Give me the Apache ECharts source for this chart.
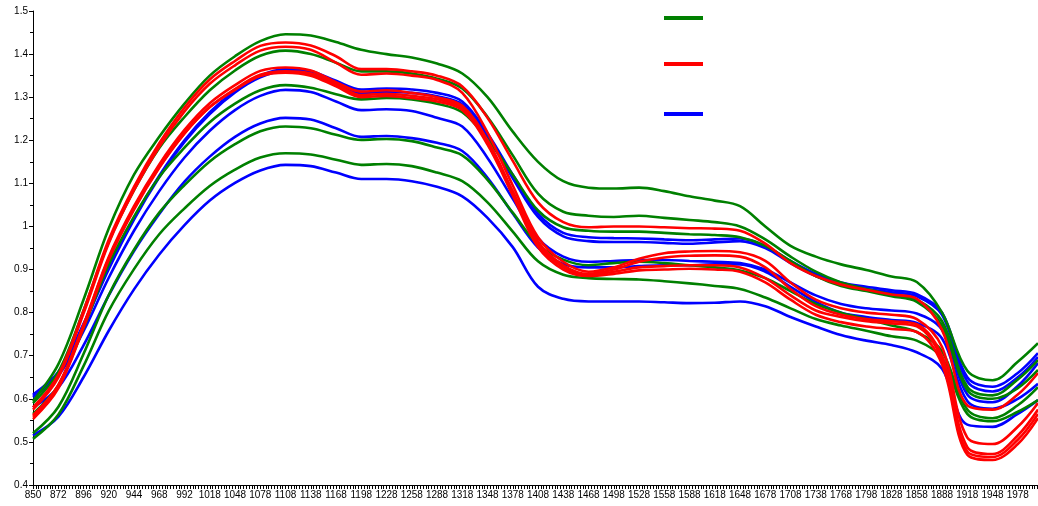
<!DOCTYPE html>
<html>
<head>
<meta charset="utf-8">
<script src="https://cdn.jsdelivr.net/npm/echarts@6/dist/echarts.min.js"></script>
<style>
  html, body { margin: 0; padding: 0; background: #ffffff; }
  #chart { width: 1038px; height: 506px; }
</style>
</head>
<body>
<div id="chart"></div>
<script>
// Wavelength tick labels (nm), one per major tick
const wavelengths = [850, 872, 896, 920, 944, 968, 992, 1018, 1048, 1078, 1108, 1138, 1168, 1198,
  1228, 1258, 1288, 1318, 1348, 1378, 1408, 1438, 1468, 1498, 1528, 1558, 1588, 1618, 1648, 1678,
  1708, 1738, 1768, 1798, 1828, 1858, 1888, 1918, 1948, 1978];

// Sample positions along the axis (tick index); the final sample sits at the right edge
const samplePos = [0, 1, 2, 3, 4, 5, 6, 7, 8, 9, 10, 11, 12, 13, 14, 15, 16, 17, 18, 19, 20,
  21, 22, 23, 24, 25, 26, 27, 28, 29, 30, 31, 32, 33, 34, 35, 36, 37, 38, 39, 39.8];

// Green spectra
const g1 = [.595, .68, .83, .995, 1.12, 1.208, 1.285, 1.35, 1.395, 1.43, 1.446, 1.443, 1.428, 1.41, 1.40, 1.392, 1.378, 1.355, 1.30, 1.22, 1.15, 1.105, 1.09, 1.088, 1.09, 1.082, 1.07, 1.06, 1.047, 1.0, .955, .93, .912, .899, .884, .871, .80, .665, .643, .686, .729];
const g2 = [.59, .662, .805, .964, 1.084, 1.182, 1.254, 1.316, 1.362, 1.396, 1.408, 1.40, 1.38, 1.36, 1.36, 1.355, 1.343, 1.32, 1.254, 1.165, 1.076, 1.034, 1.025, 1.022, 1.025, 1.02, 1.015, 1.01, 1.0, .97, .93, .895, .87, .855, .842, .83, .78, .628, .608, .645, .69];
const g3 = [.565, .631, .764, .912, 1.023, 1.115, 1.183, 1.242, 1.285, 1.316, 1.328, 1.322, 1.307, 1.295, 1.298, 1.295, 1.285, 1.265, 1.202, 1.12, 1.037, .998, .99, .988, .988, .985, .982, .98, .975, .955, .92, .885, .862, .85, .838, .825, .77, .62, .60, .625, .667];
const g4 = [.52, .581, .704, .841, .946, 1.032, 1.096, 1.151, 1.191, 1.221, 1.232, 1.228, 1.213, 1.201, 1.203, 1.198, 1.183, 1.165, 1.108, 1.032, .958, .923, .91, .915, .918, .915, .91, .905, .898, .88, .85, .82, .80, .785, .77, .755, .71, .575, .555, .585, .627];
const g5 = [.507, .563, .676, .804, .901, .982, 1.042, 1.094, 1.132, 1.16, 1.17, 1.167, 1.155, 1.143, 1.145, 1.14, 1.125, 1.105, 1.056, .988, .919, .888, .88, .878, .877, .873, .868, .862, .855, .835, .81, .785, .77, .758, .745, .735, .695, .565, .548, .57, .597];

// Red spectra
const r1 = [.58, .655, .804, .969, 1.092, 1.193, 1.276, 1.341, 1.384, 1.419, 1.427, 1.42, 1.395, 1.365, 1.365, 1.36, 1.35, 1.325, 1.252, 1.152, 1.056, 1.01, .998, 1.0, 1.0, .998, .996, .995, .99, .96, .915, .885, .865, .853, .842, .832, .76, .585, .575, .61, .66];
const r2 = [.575, .649, .798, .961, 1.084, 1.185, 1.267, 1.331, 1.374, 1.408, 1.417, 1.41, 1.38, 1.352, 1.355, 1.35, 1.34, 1.31, 1.218, 1.095, .975, .918, .895, .905, .925, .938, .942, .943, .94, .92, .87, .83, .81, .80, .795, .785, .72, .51, .495, .535, .59];
const r3 = [.558, .629, .771, .929, 1.047, 1.144, 1.224, 1.286, 1.328, 1.361, 1.369, 1.362, 1.335, 1.313, 1.316, 1.31, 1.30, 1.28, 1.20, 1.082, .965, .91, .89, .90, .918, .928, .932, .933, .93, .905, .855, .815, .795, .785, .78, .773, .70, .488, .472, .515, .575];
const r4 = [.553, .624, .765, .922, 1.039, 1.136, 1.216, 1.277, 1.319, 1.352, 1.36, 1.355, 1.33, 1.305, 1.308, 1.303, 1.295, 1.275, 1.195, 1.077, .958, .905, .888, .895, .905, .908, .91, .91, .905, .88, .84, .805, .79, .78, .775, .768, .69, .478, .465, .505, .565];
const r5 = [.562, .632, .771, .926, 1.042, 1.138, 1.216, 1.277, 1.317, 1.349, 1.357, 1.35, 1.325, 1.30, 1.303, 1.298, 1.29, 1.27, 1.19, 1.072, .952, .90, .885, .89, .898, .90, .902, .90, .895, .87, .83, .795, .778, .768, .762, .755, .68, .47, .458, .495, .555];

// Blue spectra
const b1 = [.61, .662, .774, .905, 1.02, 1.118, 1.2, 1.265, 1.315, 1.35, 1.365, 1.36, 1.338, 1.318, 1.32, 1.318, 1.31, 1.29, 1.216, 1.12, 1.03, .985, .975, .973, .972, .97, .968, .97, .972, .955, .92, .89, .87, .86, .852, .843, .80, .65, .628, .66, .706];
const b2 = [.607, .659, .771, .901, 1.016, 1.114, 1.196, 1.261, 1.311, 1.346, 1.361, 1.355, 1.33, 1.31, 1.312, 1.31, 1.302, 1.283, 1.208, 1.112, 1.022, .977, .966, .964, .964, .962, .96, .963, .966, .95, .915, .885, .865, .855, .847, .838, .795, .64, .617, .65, .697];
const b3 = [.604, .653, .757, .881, .99, 1.082, 1.16, 1.222, 1.27, 1.303, 1.317, 1.312, 1.29, 1.27, 1.272, 1.268, 1.252, 1.232, 1.159, 1.064, .973, .93, .918, .92, .922, .922, .92, .918, .915, .90, .87, .84, .82, .81, .805, .798, .76, .61, .592, .63, .683];
const b4 = [.58, .626, .724, .84, .943, 1.029, 1.104, 1.162, 1.208, 1.239, 1.252, 1.248, 1.228, 1.208, 1.21, 1.205, 1.194, 1.175, 1.113, 1.03, .951, .913, .905, .905, .908, .91, .91, .912, .912, .895, .86, .825, .80, .79, .783, .776, .74, .595, .577, .60, .635];
const b5 = [.515, .558, .65, .758, .854, .935, 1.003, 1.06, 1.101, 1.13, 1.143, 1.14, 1.125, 1.11, 1.11, 1.105, 1.092, 1.07, 1.02, .952, .86, .832, .826, .826, .826, .824, .822, .823, .826, .815, .79, .768, .748, .735, .725, .708, .67, .54, .535, .565, .597];

const groupNames = ['A', 'B', 'C'];
const groupColors = ['#008000', '#ff0000', '#0000ff'];

const groups = [
  { name: groupNames[0], color: groupColors[0], curves: [g1, g2, g3, g4, g5] },
  { name: groupNames[1], color: groupColors[1], curves: [r1, r2, r3, r4, r5] },
  { name: groupNames[2], color: groupColors[2], curves: [b1, b2, b3, b4, b5] }
];

// Drawing order: blue underneath, then green, red on top
const drawOrder = [2, 0, 1];
const series = [];
drawOrder.forEach(function (gi) {
  const g = groups[gi];
  g.curves.forEach(function (vals) {
    series.push({
      name: g.name,
      type: 'line',
      data: vals.map(function (v, k) { return [samplePos[k], v]; }),
      showSymbol: false,
      smooth: 0.35,
      lineStyle: { color: g.color, width: 2.6 },
      itemStyle: { color: g.color },
      emphasis: { disabled: true },
      silent: true
    });
  });
});

// One swatch per group, stacked in the upper right
const legendTops = [16, 62, 112];
const legends = groups.map(function (g, i) {
  return {
    data: [g.name],
    left: 664,
    top: legendTops[i],
    padding: 0,
    icon: 'rect',
    itemWidth: 39,
    itemHeight: 4,
    selectedMode: false,
    formatter: function () { return ''; },
    textStyle: { fontSize: 1 }
  };
});

const chart = echarts.init(document.getElementById('chart'), null, { renderer: 'canvas' });
chart.setOption({
  animation: false,
  backgroundColor: '#ffffff',
  legend: legends,
  grid: { left: 33, right: 0, top: 11, bottom: 21, containLabel: false },
  xAxis: {
    type: 'value',
    min: 0,
    max: samplePos[samplePos.length - 1],
    interval: 1,
    axisLine: { lineStyle: { color: '#000', width: 1 } },
    axisTick: { show: true, length: 4, lineStyle: { color: '#000' } },
    minorTick: { show: true, splitNumber: 9, length: 4, lineStyle: { color: '#000' } },
    splitLine: { show: false },
    axisLabel: {
      color: '#000',
      fontFamily: 'Liberation Sans, Arial, sans-serif',
      fontSize: 10,
      margin: 5,
      showMaxLabel: false,
      formatter: function (v) {
        const label = wavelengths[Math.round(v)];
        return (Math.abs(v - Math.round(v)) < 1e-6 && label !== undefined) ? String(label) : '';
      }
    }
  },
  yAxis: {
    type: 'value',
    min: 0.4,
    max: 1.5,
    interval: 0.1,
    axisLine: { show: true, lineStyle: { color: '#000', width: 1 } },
    axisTick: { show: true, length: 4, lineStyle: { color: '#000' } },
    minorTick: { show: true, splitNumber: 2, length: 3, lineStyle: { color: '#000' } },
    splitLine: { show: false },
    axisLabel: {
      color: '#000',
      fontFamily: 'Liberation Sans, Arial, sans-serif',
      fontSize: 10,
      margin: 5,
      formatter: function (v) { return String(Math.round(v * 10) / 10); }
    }
  },
  series: series
});
</script>
</body>
</html>
